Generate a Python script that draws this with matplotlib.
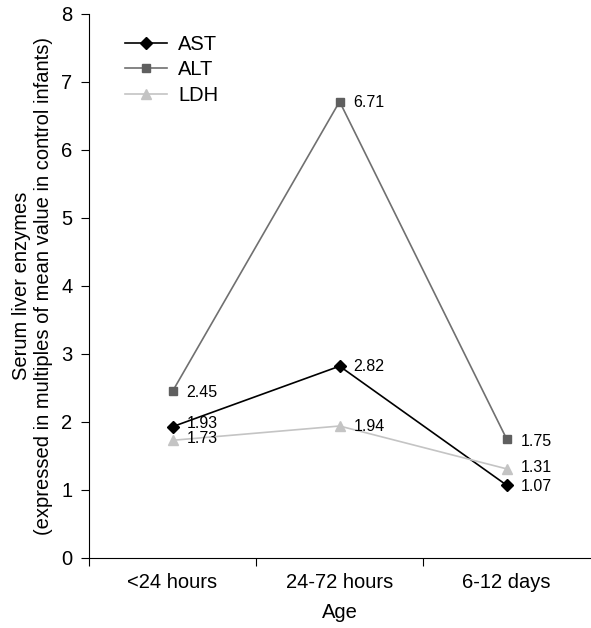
import numpy as np
import matplotlib.pyplot as plt

plt.rcParams['font.family'] = ['Liberation Sans', 'DejaVu Sans']

# data
ages = ['<24 hours', '24-72 hours', '6-12 days']
ast = [1.93, 2.82, 1.07]
alt = [2.45, 6.71, 1.75]
ldh = [1.73, 1.94, 1.31]

# label offsets (points) for the value labels
ast_off = [(10, 2), (10, 0), (10, -1)]
alt_off = [(10, -1), (10, -1), (10, -2)]
ldh_off = [(10, 1), (10, 0), (10, 1)]

fig = plt.figure(figsize=(5.91, 6.28), dpi=100)
ax = fig.add_axes([0.1506, 0.1115, 0.848, 0.8665])

x = np.arange(len(ages)) + 0.5

ax.plot(x, ast, color='black', lw=1.2, marker='D', ms=6.5, label='AST')
ax.plot(x, alt, color='#707070', lw=1.2, marker='s', ms=6, mfc='#5f5f5f', mec='#5f5f5f', label='ALT')
ax.plot(x, ldh, color='#c4c4c4', lw=1.2, marker='^', ms=7.5, label='LDH')

for vals, offs in [(ast, ast_off), (alt, alt_off), (ldh, ldh_off)]:
    for xi, v, o in zip(x, vals, offs):
        ax.annotate('%.2f' % v, (xi, v), xytext=o, textcoords='offset points',
                    va='center', ha='left', fontsize=11.5)

ax.set_xlim(0, 3)
ax.set_ylim(0, 8)
ax.set_yticks(range(0, 9))
ax.set_xticks([0, 1, 2])
ax.set_xticklabels([])
ax.set_xticks(x, minor=True)
ax.set_xticklabels(ages, minor=True)
ax.tick_params(axis='x', which='minor', length=0, pad=11, labelsize=14.5)
ax.tick_params(axis='x', which='major', length=6, direction='out')
ax.tick_params(axis='y', length=6, direction='out', labelsize=14.5, pad=6)

ax.spines['top'].set_visible(False)
ax.spines['right'].set_visible(False)

ax.set_xlabel('Age', fontsize=14.5, labelpad=8)
ax.set_ylabel('Serum liver enzymes\n(expressed in multiples of mean value in control infants)',
              fontsize=14.5, labelpad=6)

ax.legend(loc='upper left', bbox_to_anchor=(0.035, 0.995), frameon=False,
          fontsize=14.5, handlelength=2.1, handletextpad=0.55, labelspacing=0.33)

plt.savefig('out.png', dpi=100)
